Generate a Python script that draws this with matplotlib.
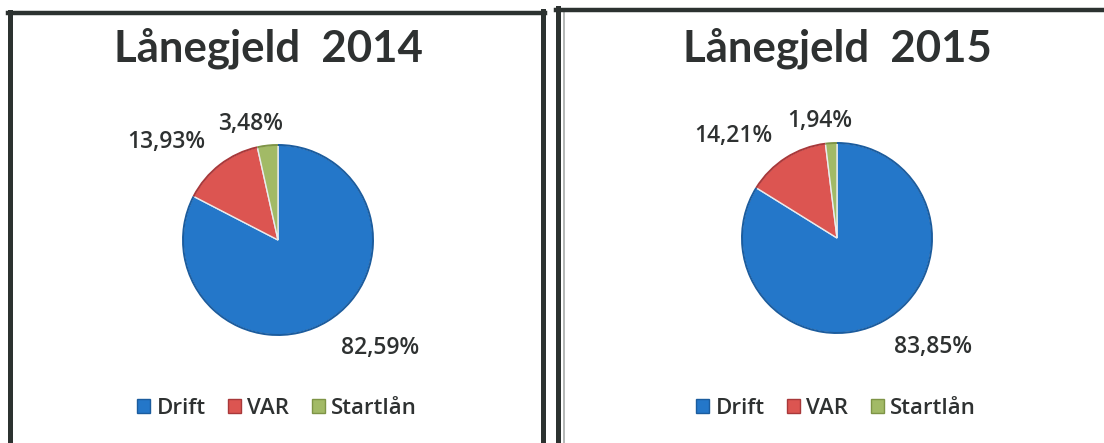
import matplotlib
matplotlib.use("Agg")
import matplotlib.pyplot as plt
from matplotlib.lines import Line2D
from matplotlib.patches import Arc

# ---------------- data ----------------
categories = ["Drift", "VAR", "Startlån"]
values_2014 = [82.59, 13.93, 3.48]
values_2015 = [83.85, 14.21, 1.94]
titles = ["Lånegjeld  2014", "Lånegjeld  2015"]

# ---------------- style ----------------
W, H = 1104, 443
colors = ["#2477C9", "#DC5551", "#A2BA66"]
edge_dark = ["#1B5C9E", "#A8383A", "#7E9446"]
text_col = "#2E3131"
TITLE_FONT = ["Lato", "DejaVu Sans"]
BODY_FONT = ["Open Sans", "DejaVu Sans"]

# pie centres / radius (pixels, from top-left)
centers = [(278, 240), (837, 238)]
radius_px = 95
# label offsets in units of pie radius (Excel best-fit placement)
label_pos = [
    [(1.08, -1.14), (-1.18, 1.03), (-0.29, 1.22)],
    [(1.01, -1.15), (-1.09, 1.07), (-0.18, 1.23)],
]
title_y = 48
legend_y = 408

plt.rcParams["font.family"] = BODY_FONT

fig = plt.figure(figsize=(W / 100, H / 100), dpi=100)
fig.patch.set_facecolor("white")


def fx(x):
    return x / W


def fy(y):
    return 1 - y / H


# frames (scanned boxes)
frame_col = "#2C3230"
fig.add_artist(Line2D([fx(10), fx(10)], [fy(12), fy(443)], color=frame_col, lw=3.6, transform=fig.transFigure))
fig.add_artist(Line2D([fx(8), fx(545)], [fy(13), fy(13)], color=frame_col, lw=3.2, transform=fig.transFigure))
fig.add_artist(Line2D([fx(543), fx(543)], [fy(11), fy(443)], color=frame_col, lw=3.6, transform=fig.transFigure))
fig.add_artist(Line2D([fx(558), fx(558)], [fy(8), fy(443)], color=frame_col, lw=3.6, transform=fig.transFigure))
fig.add_artist(Line2D([fx(563.5), fx(563.5)], [fy(12), fy(443)], color="#A8ACAA", lw=1.2, transform=fig.transFigure))
fig.add_artist(Line2D([fx(556), fx(1104)], [fy(10), fy(10)], color=frame_col, lw=3.2, transform=fig.transFigure))

datasets = [values_2014, values_2015]

for i, vals in enumerate(datasets):
    cx, cy = centers[i]
    ax = fig.add_axes([fx(cx - radius_px), fy(cy + radius_px),
                       2 * radius_px / W, 2 * radius_px / H])
    wedges, _ = ax.pie(vals, colors=colors, startangle=90, counterclock=False,
                       radius=1.0,
                       wedgeprops=dict(edgecolor="#E9ECEE", linewidth=1.0))
    ax.set_xlim(-1, 1)
    ax.set_ylim(-1, 1)
    ax.set_aspect("equal")
    ax.axis("off")
    # rim of each wedge in a darker tone
    start = 90
    for v, ec in zip(vals, edge_dark):
        sweep = v / sum(vals) * 360
        ax.add_patch(Arc((0, 0), 2, 2, theta1=start - sweep, theta2=start,
                         edgecolor=ec, lw=1.4, zorder=6, clip_on=False))
        start -= sweep

    # data labels
    for (lx, ly), v in zip(label_pos[i], vals):
        ax.text(lx, ly, f"{v:.2f}%".replace(".", ","), ha="center", va="center",
                fontsize=16.5, fontweight="semibold", color=text_col, clip_on=False)

    # title
    fig.text(fx(cx - 10 if i == 0 else cx), fy(title_y), titles[i], ha="center", va="center",
             fontsize=31.5, fontweight="bold", color=text_col, family=TITLE_FONT)

    # legend
    leg = ax.legend(wedges, categories, loc="center",
                    bbox_to_anchor=(fx(cx - 1), fy(legend_y)),
                    bbox_transform=fig.transFigure, ncol=3, frameon=False,
                    prop=dict(size=16, weight="semibold", family=BODY_FONT),
                    handlelength=0.58, handleheight=0.58,
                    handletextpad=0.3, columnspacing=1.0, borderpad=0)
    for t in leg.get_texts():
        t.set_color(text_col)
    for h, ec in zip(leg.legend_handles, edge_dark):
        h.set_edgecolor(ec)
        h.set_linewidth(1.0)

fig.savefig("out.png", dpi=100, facecolor="white")
